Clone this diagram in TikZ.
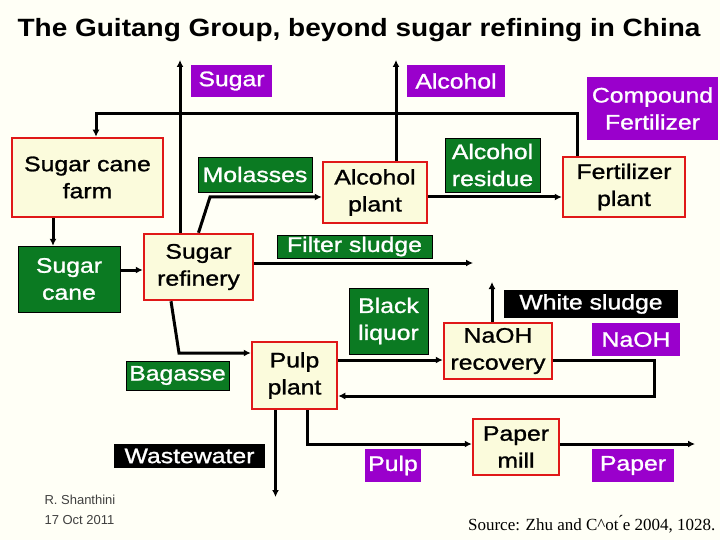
\documentclass[tikz,border=0pt]{standalone}
\usepackage{fontspec}
\setmainfont{Liberation Sans}
\newfontfamily\labfont{Liberation Sans}[FakeStretch=1.18,FakeBold=1.2]
\newfontfamily\titlefont{Liberation Sans Bold}[FakeStretch=1.12]
\newfontfamily\serifsrc{Liberation Serif}
\usetikzlibrary{arrows.meta}
\definecolor{bg}{HTML}{FFFFF6}
\definecolor{cream}{HTML}{FBFBDC}
\definecolor{boxred}{HTML}{E01818}
\definecolor{lgreen}{HTML}{0B7A22}
\definecolor{lpurple}{HTML}{9A00CC}
\begin{document}
\begin{tikzpicture}[x=1pt,y=-1pt,
  lab/.style={inner sep=0pt,align=center,font=\labfont\fontsize{21}{27}\selectfont},
  proc/.style={lab,draw=boxred,line width=2.5pt,fill=cream,text=black},
  grn/.style={lab,fill=lgreen,text=white,draw=black,line width=0.4pt},
  prp/.style={lab,fill=lpurple,text=white},
  blk/.style={lab,fill=black,text=white},
  flow/.style={line width=3pt,-{Latex[length=7pt,width=7pt]}}]
\fill[bg] (0,0) rectangle (720,540);
\useasboundingbox (0,0) rectangle (720,540);
\node[font=\titlefont\fontsize{25}{28}\selectfont] (title) at (359,30) {The Guitang Group, beyond sugar refining in China};

\node[prp,minimum width=81,minimum height=32] (sugar) at (231.5,81) {Sugar};
\node[prp,minimum width=98,minimum height=32] (alcohol) at (456,81) {Alcohol};
\node[prp,minimum width=131,minimum height=63] (compound) at (652.5,108.5) {Compound\\Fertilizer};
\node[proc,minimum width=151,minimum height=79] (farm) at (87.5,177.5) {Sugar cane\\farm};
\node[grn,minimum width=102,minimum height=66] (cane) at (69,279) {Sugar\\cane};
\node[proc,minimum width=109,minimum height=66] (refinery) at (198.5,267) {Sugar\\refinery};
\node[grn,minimum width=114,minimum height=35] (molasses) at (255,174.5) {Molasses};
\node[proc,minimum width=104,minimum height=61] (alcplant) at (375,192.5) {Alcohol\\plant};
\node[grn,minimum width=95,minimum height=54] (residue) at (492.5,165) {Alcohol\\residue};
\node[proc,minimum width=122,minimum height=60] (fert) at (624,187) {Fertilizer\\plant};
\node[grn,minimum width=155,minimum height=23] (filter) at (354.5,246.5) {Filter sludge};
\node[grn,minimum width=79,minimum height=66] (black) at (388.5,321) {Black\\liquor};
\node[blk,minimum width=174,minimum height=28] (white) at (591,304) {White sludge};
\node[proc,minimum width=108,minimum height=56] (naohrec) at (498,351) {NaOH\\recovery};
\node[prp,minimum width=88,minimum height=33] (naoh) at (636,339.5) {NaOH};
\node[proc,minimum width=85,minimum height=67] (pulpplant) at (294.5,375.5) {Pulp\\plant};
\node[grn,minimum width=103,minimum height=29] (bagasse) at (177.5,375.5) {Bagasse};
\node[blk,minimum width=151,minimum height=24] (waste) at (189.5,456) {Wastewater};
\node[prp,minimum width=56,minimum height=33] (pulp) at (393,465.5) {Pulp};
\node[proc,minimum width=86,minimum height=56] (mill) at (516,447) {Paper\\mill};
\node[prp,minimum width=82,minimum height=33] (paper) at (633,465.5) {Paper};

\node[anchor=west,align=left,text=black!75,font=\fontsize{13}{20}\selectfont] (author) at (41,510) {R. Shanthini\\17 Oct 2011};
\node[anchor=east,font=\serifsrc\fontsize{17}{20}\selectfont] (src) at (719,524) {Source: Zhu and C\^{}ot\'{}e 2004, 1028.};

\coordinate (sugarout) at (180,60);
\coordinate (alcout) at (396,60);
\coordinate (filterout) at (473,263);
\coordinate (whiteout) at (492,282);
\coordinate (wasteout) at (275.5,497);
\coordinate (paperout) at (695,444);

\draw[flow] ([xshift=-18.5]refinery.north) -- (sugarout);
\draw[flow] ([xshift=21]alcplant.north) -- (alcout);
\draw[flow] ([xshift=-47]fert.north) |- (577,114) -| ([xshift=8.5]farm.north);
\draw[flow] (farm.south -| 53,0) -- (cane.north -| 53,0);
\draw[flow] (cane.east |- 0,270) -- (refinery.west |- 0,270);
\draw[flow] (refinery.north) -- (210,197) -- (alcplant.west |- 0,197);
\draw[flow] (alcplant.east |- 0,197) -- (fert.west |- 0,197);
\draw[flow] (refinery.east |- 0,263) -- (filterout);
\draw[flow] ([xshift=-27.5]refinery.south) -- (179,353) -- (pulpplant.west |- 0,353);
\draw[flow] (pulpplant.east |- 0,360) -- (naohrec.west |- 0,360);
\draw[flow] (naohrec.east |- 0,360) -| (654,396) -- (pulpplant.east |- 0,396);
\draw[flow] (naohrec.north -| 492,0) -- (whiteout);
\draw[flow] ([xshift=-19]pulpplant.south) -- (wasteout);
\draw[flow] ([xshift=12.5]pulpplant.south) |- (mill.west |- 0,444);
\draw[flow] (mill.east |- 0,444) -- (paperout);
\end{tikzpicture}
\end{document}
